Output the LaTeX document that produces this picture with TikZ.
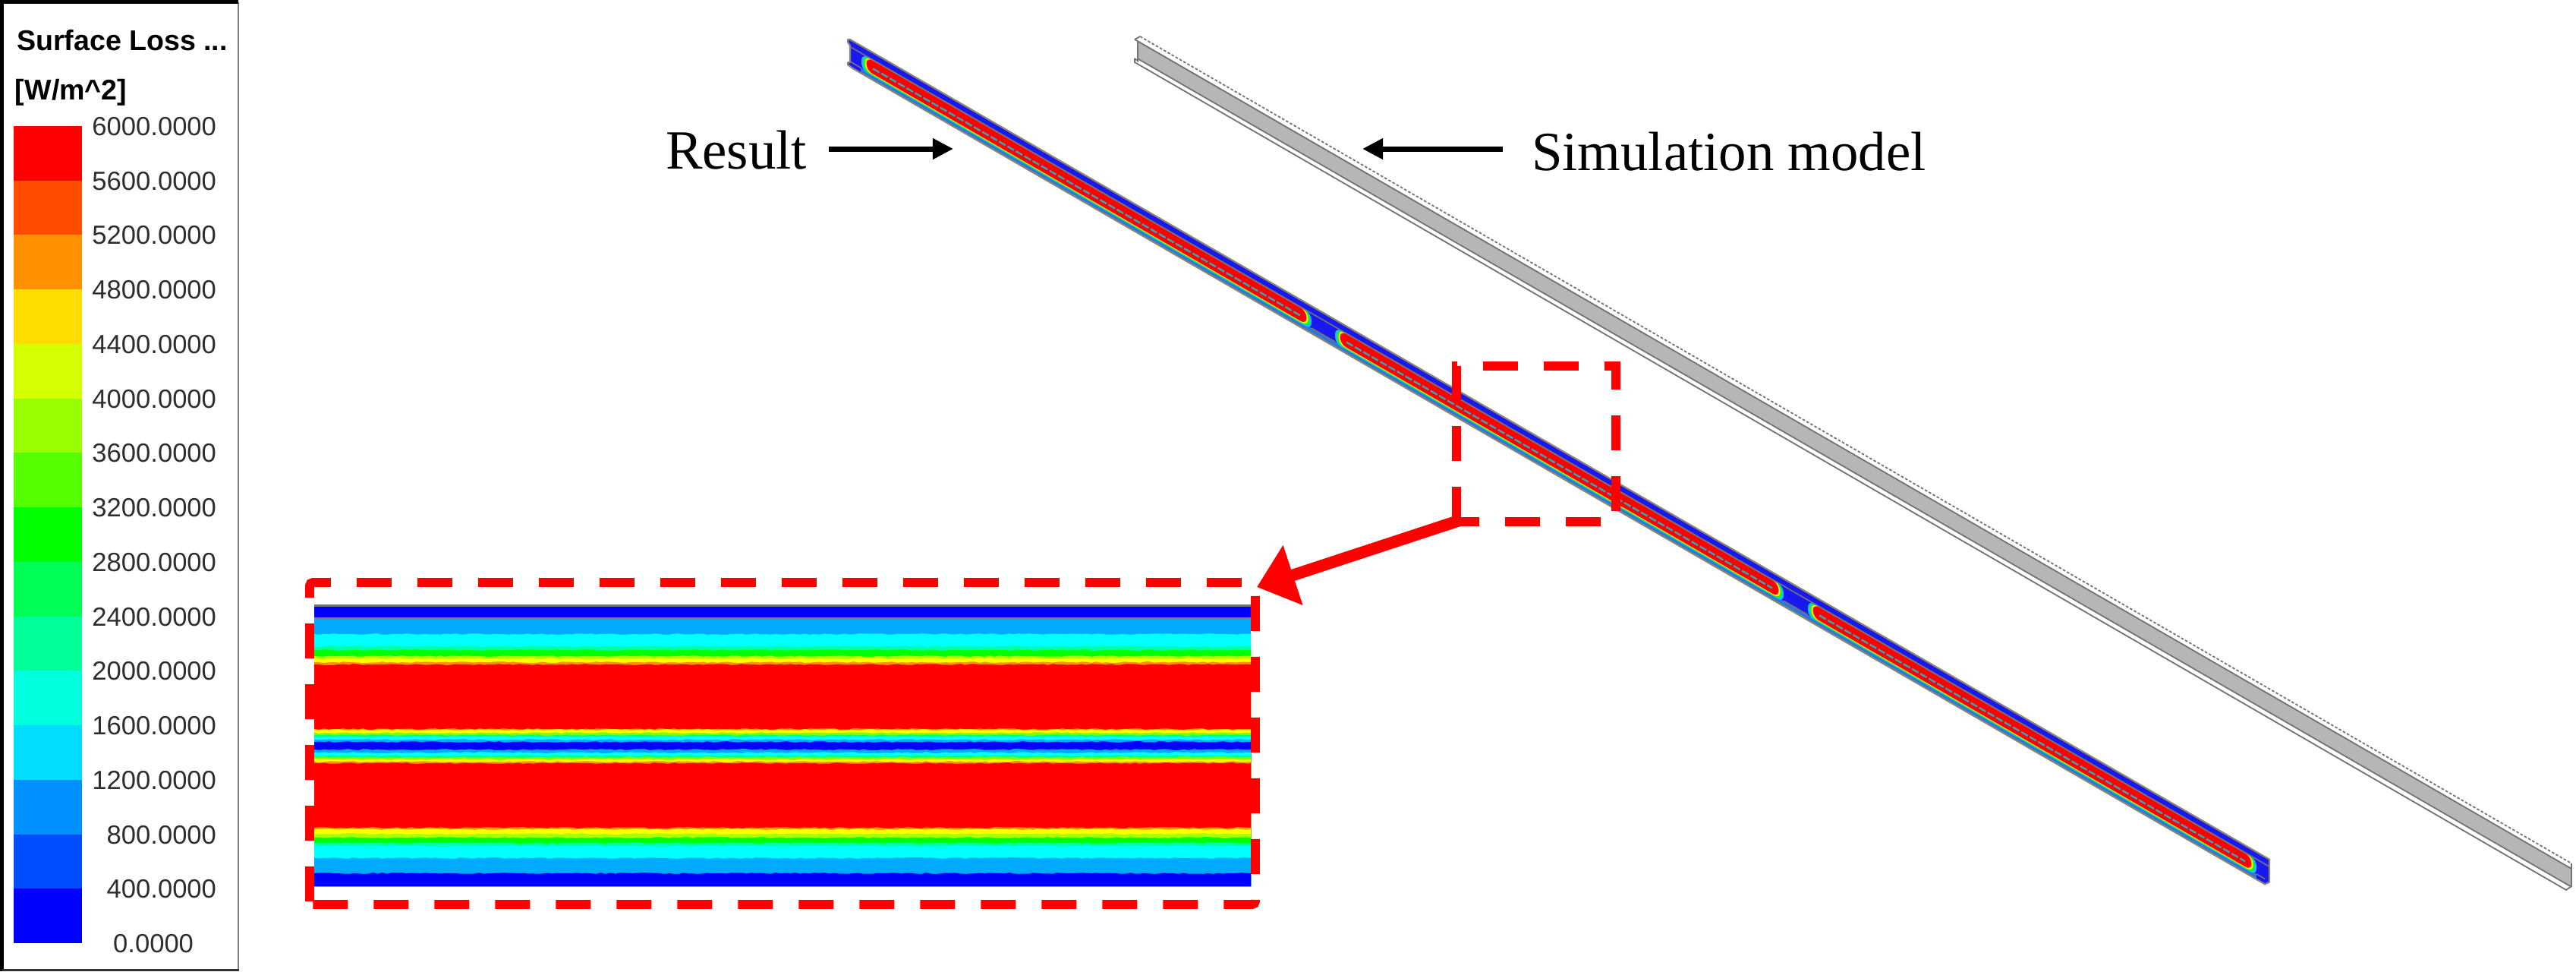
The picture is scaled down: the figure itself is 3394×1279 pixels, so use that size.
\documentclass[tikz,border=0pt]{standalone}
\usepackage{fontspec}
\setmainfont{Liberation Serif}
\newfontfamily\legendfont{Liberation Sans}
\usetikzlibrary{arrows.meta,decorations.pathmorphing}
\definecolor{markred}{HTML}{FF0000}
\definecolor{webblue}{HTML}{1818F0}
\definecolor{lowblue}{HTML}{2A78DC}
\definecolor{edgegrey}{HTML}{8A8674}
\definecolor{beamgrey}{HTML}{B6B6B6}
\definecolor{tealmid}{HTML}{2FA8B8}
\definecolor{skyband}{HTML}{00AAFF}
\tikzset{
  px/.style={x=0.25pt,y=-0.25pt},
  scaletext/.style={inner sep=0pt,outer sep=0pt,font=\legendfont\fontsize{8.65pt}{9pt}\selectfont,text=black!82,anchor=base east},
  legendhead/.style={inner sep=0pt,outer sep=0pt,font=\legendfont\bfseries\fontsize{9.4pt}{10pt}\selectfont,anchor=base west},
  labeltext/.style={inner sep=0pt,outer sep=0pt,font=\fontsize{18.2pt}{20pt}\selectfont,anchor=base west},
  leader/.style={line width=1.75pt,-{Triangle[length=6.8pt,width=6.6pt]}},
  zoommark/.style={draw=markred,line width=2.9pt,dash pattern=on 11.5pt off 8.5pt},
  zoomarrow/.style={draw=markred,line width=3.9pt,-{Triangle[length=12.5pt,width=20pt,fill=markred]}},
  thinedge/.style={draw=edgegrey,line width=0.55pt},
  outline/.style={draw=black!55,line width=0.45pt}
}
\newcommand{\stripe}[5]{%
  \fill[#5,rounded corners=2.2pt] (#1,#3) -- (#2,#3) -- (#2,#4) -- (#1,#4) -- cycle;}
\begin{document}
\begin{tikzpicture}[px]
\useasboundingbox (0,0) rectangle (3394,1279);
% ---- legend panel
\fill[white] (0,0) rectangle (315,1279);
\draw[black!50,line width=0.5pt] (314,3) -- (314,1277);
\draw[black,line width=1.25pt] (314,2.5) -- (2.5,2.5) -- (2.5,1279);
\draw[black!80,line width=0.7pt] (2.5,1277.5) -- (315,1277.5);
\node[legendhead] (legendtitle) at (22,66) {Surface Loss ...};
\node[legendhead] (legendunit) at (20,131) {[W/m\textasciicircum 2]};
\foreach \i/\c/\t in {0/FF0000/6000,1/FF4D00/5600,2/FF9000/5200,3/FFDD00/4800,4/D4FF00/4400,5/99FF00/4000,6/55FF00/3600,7/00FF00/3200,8/00FF55/2800,9/00FF99/2400,10/00FFDD/2000,11/00DDFF/1600,12/0090FF/1200,13/004DFF/800,14/0000FF/400}{
  \edef\tmpc{\noexpand\definecolor{barc}{HTML}{\c}}\tmpc
  \fill[barc] (18,{166+71.73*\i}) rectangle (108,{166+71.73*(\i+1)+0.5});
  \node[scaletext] (scale\t) at (285,{166+71.73*\i+12.5}) {\t.0000};
}
\node[scaletext] (scale0) at (255,1254.5) {0.0000};
% ---- grey simulation beam
\begin{scope}[cm={1,-0.5774,0,1,(1502,48)}]
  \fill[white] (0,0) -- (1886,0) -- (1886,30) -- (1879,39) -- (-3,39) -- (-7,38) -- (-7,33) -- (-3,34) -- (-3,11) -- (-7,8) -- cycle;
  \fill[beamgrey] (-3,7) -- (1886,7) -- (1886,31) -- (-3,31) -- cycle;
  \draw[outline,dash pattern=on 0.9pt off 0.6pt] (0,0) -- (1886,0);
  \draw[outline] (-7,8) -- (0,0);
  \draw[outline] (-7,8) -- (1886,7);
  \draw[outline] (-3,31) -- (1886,31);
  \draw[outline] (-7,33) -- (-7,38) -- (1879,39) -- (1886,30) -- (1886,0);
  \draw[outline] (-3,8) -- (-3,34) -- (-7,33);
\end{scope}
% ---- result beam
\begin{scope}[cm={1,-0.5774,0,1,(1120,52)}]
  \fill[webblue] (0,0) -- (1870,0) -- (1870,30) -- (1864,36) -- (4,36) -- (-3,35) -- (-3,32) -- (0,30) -- (0,8) -- (-3,5) -- (-3,2) -- cycle;
  \fill[lowblue] (4,29) -- (1864,29) -- (1864,36) -- (4,36) -- cycle;
  \fill[webblue] (0,10) rectangle (14,36);
  \fill[webblue] (1853,10) -- (1870,10) -- (1870,30) -- (1864,36) -- (1853,36) -- cycle;
  \foreach \a/\b in {608/639,1230/1262}{\fill[webblue] (\a,10) rectangle (\b,29);}
  \foreach \a/\b in {15/608,639/1230,1262/1853}{
    \stripe{\a}{\b}{10}{31}{cyan!85!white}
    \stripe{\a+2.5}{\b-2.5}{10}{30}{green!85!cyan}
    \stripe{\a+4.5}{\b-4.5}{10}{29}{yellow}
    \stripe{\a+6.5}{\b-6.5}{10.5}{28}{red}
    \draw[tealmid,line width=0.6pt,dash pattern=on 2.5pt off 0.7pt] ({\a+15},21) -- ({\b-15},21);
  }
  \draw[black!55,line width=0.4pt] (0,9.5) -- (1870,9.5);
  \foreach \a/\b in {0/15,608/639,1230/1262,1853/1864}{\draw[black!55,line width=0.4pt] (\a,29) -- (\b,29);}
  \draw[thinedge,line join=round] (0,0) -- (1870,0) -- (1870,30) -- (1864,36) -- (4,36) -- (-3,35) -- (-3,32) -- (0,30) -- (0,8) -- (-3,5) -- (-3,2) -- cycle;
\end{scope}
% ---- labels and leaders
\node[labeltext] (resultlabel) at (877,222) {Result};
\node[labeltext] (simlabel) at (2018,224) {Simulation model};
\coordinate (resulttail) at (1092,196);
\coordinate (resulttip) at (1256,196);
\coordinate (simtail) at (1980,196);
\coordinate (simtip) at (1795,196);
\draw[leader] (resulttail) -- (resulttip);
\draw[leader] (simtail) -- (simtip);
% ---- enlarged heat map
\begin{scope}
  \clip (414,796) rectangle (1648,1167);
  \fill[black!55] (414,796) rectangle (1648,1167);
  \fill[blue] (414,799) rectangle (1648,813);
  \fill[black!50] (414,813) rectangle (1648,816);
  \fill[skyband] (414,816) rectangle (1648,1167);
  \pgfmathsetseed{4711}
  \foreach \y/\c in {835/00FFFF,851/00FFAA,856/00FF00,864/AAFF00,867/FFFF00,872/FF9000,875/FF0000,960/FF9000,961/FFFF00,965/80FF00,968/00FF80,970/00FFFF,974/00AAFF,977/0000FF,987/00AAFF,991/00FFFF,995/00FF80,997/80FF00,1000/FFFF00,1003/FF9000,1005/FF0000,1090/FF9000,1092/FFFF00,1098/AAFF00,1103/00FF00,1110/00FFAA,1114/00FFFF,1130/00AAFF,1150/0000FF}{
    \edef\tmpc{\noexpand\definecolor{bandc}{HTML}{\c}}\tmpc
    \fill[bandc,decoration={random steps,segment length=1.6pt,amplitude=0.22pt}] decorate {(414,\y) -- (1648,\y)} -- (1648,1167) -- (414,1167) -- cycle;
  }
\end{scope}
% ---- zoom marks
\draw[zoommark] (1919,687) -- (1919,482) -- (2129,482) -- (2129,687) -- cycle;
\draw[zoommark,rounded corners=1pt] (408,1191) -- (408,767) -- (1654,767) -- (1654,1191) -- cycle;
\coordinate (zoomfrom) at (1921,686);
\coordinate (zoomto) at (1656,773);
\draw[zoomarrow] (zoomfrom) -- (zoomto);
\end{tikzpicture}
\end{document}
